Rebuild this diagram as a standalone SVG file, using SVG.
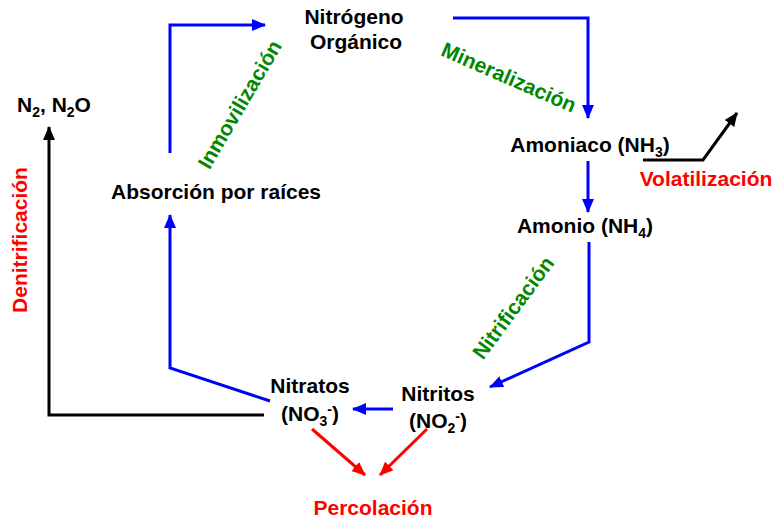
<svg xmlns="http://www.w3.org/2000/svg" width="778" height="525" viewBox="0 0 778 525">
<style>
text{font-family:"Liberation Sans",Arial,sans-serif;font-weight:bold;font-size:21px}
.k{fill:#000}
.g{fill:#008800}
.r{fill:#ff0000}
.c{text-anchor:middle}
.s{font-size:14px}
.bl{fill:none;stroke:#0000ff;stroke-width:3}
.bk{fill:none;stroke:#000;stroke-width:3}
.rd{fill:none;stroke:#ff0000;stroke-width:3}
</style>
<defs>
<marker id="ab" markerUnits="userSpaceOnUse" markerWidth="14" markerHeight="12" refX="13" refY="6" orient="auto"><path d="M0,0 L14,6 L0,12 z" fill="#0000ff"/></marker>
<marker id="ak" markerUnits="userSpaceOnUse" markerWidth="14" markerHeight="12" refX="13" refY="6" orient="auto"><path d="M0,0 L14,6 L0,12 z" fill="#000"/></marker>
<marker id="ar" markerUnits="userSpaceOnUse" markerWidth="14" markerHeight="12" refX="13" refY="6" orient="auto"><path d="M0,0 L14,6 L0,12 z" fill="#ff0000"/></marker>
</defs>
<g id="connectors">
<polyline class="bl" points="170,153 170,25 265,25" marker-end="url(#ab)"/>
<polyline class="bl" points="453,18 588,18 588,118" marker-end="url(#ab)"/>
<line class="bl" x1="588" y1="161" x2="588" y2="212" marker-end="url(#ab)"/>
<polyline class="bl" points="589,242 589,342 490,387" marker-end="url(#ab)"/>
<line class="bl" x1="393" y1="409" x2="353" y2="409" marker-end="url(#ab)"/>
<polyline class="bl" points="270,401 170,368 170,215" marker-end="url(#ab)"/>
<polyline class="bk" points="264,415 49,415 49,127" marker-end="url(#ak)"/>
<polyline class="bk" points="643,160 703,160 737,113" marker-end="url(#ak)"/>
<line class="rd" x1="312" y1="429" x2="365" y2="475" marker-end="url(#ar)"/>
<line class="rd" x1="427" y1="429" x2="380" y2="475" marker-end="url(#ar)"/>
</g>
<g id="organico"><text class="k c" x="354" y="24">Nitrógeno</text><text class="k c" x="356" y="49">Orgánico</text></g>
<g id="amoniaco"><text class="k c" x="590" y="152">Amoniaco (NH<tspan class="s" dy="5">3</tspan><tspan dy="-5">)</tspan></text></g>
<g id="amonio"><text class="k c" x="585" y="233">Amonio (NH<tspan class="s" dy="5">4</tspan><tspan dy="-5">)</tspan></text></g>
<g id="nitritos"><text class="k c" x="438" y="401">Nitritos</text><text class="k c" x="438" y="428">(NO<tspan class="s" dy="5">2</tspan><tspan class="s" dy="-12">-</tspan><tspan dy="7">)</tspan></text></g>
<g id="nitratos"><text class="k c" x="310" y="393">Nitratos</text><text class="k c" x="310" y="421">(NO<tspan class="s" dy="5">3</tspan><tspan class="s" dy="-12">-</tspan><tspan dy="7">)</tspan></text></g>
<g id="absorcion"><text class="k c" x="216" y="199">Absorción por raíces</text></g>
<g id="n2"><text class="k" x="17" y="112">N<tspan class="s" dy="5">2</tspan><tspan dy="-5">, N</tspan><tspan class="s" dy="5">2</tspan><tspan dy="-5">O</tspan></text></g>
<g id="labels">
<text class="g c" transform="translate(246,108) rotate(-59.6)">Inmovilización</text>
<text class="g c" transform="translate(506,84) rotate(23.6)">Mineralización</text>
<text class="g c" transform="translate(519,312) rotate(-53.6)">Nitrificación</text>
<text class="r c" transform="translate(27,240) rotate(-90)">Denitrificación</text>
<text class="r c" x="706" y="186">Volatilización</text>
<text class="r c" x="373" y="515">Percolación</text>
</g>
</svg>
